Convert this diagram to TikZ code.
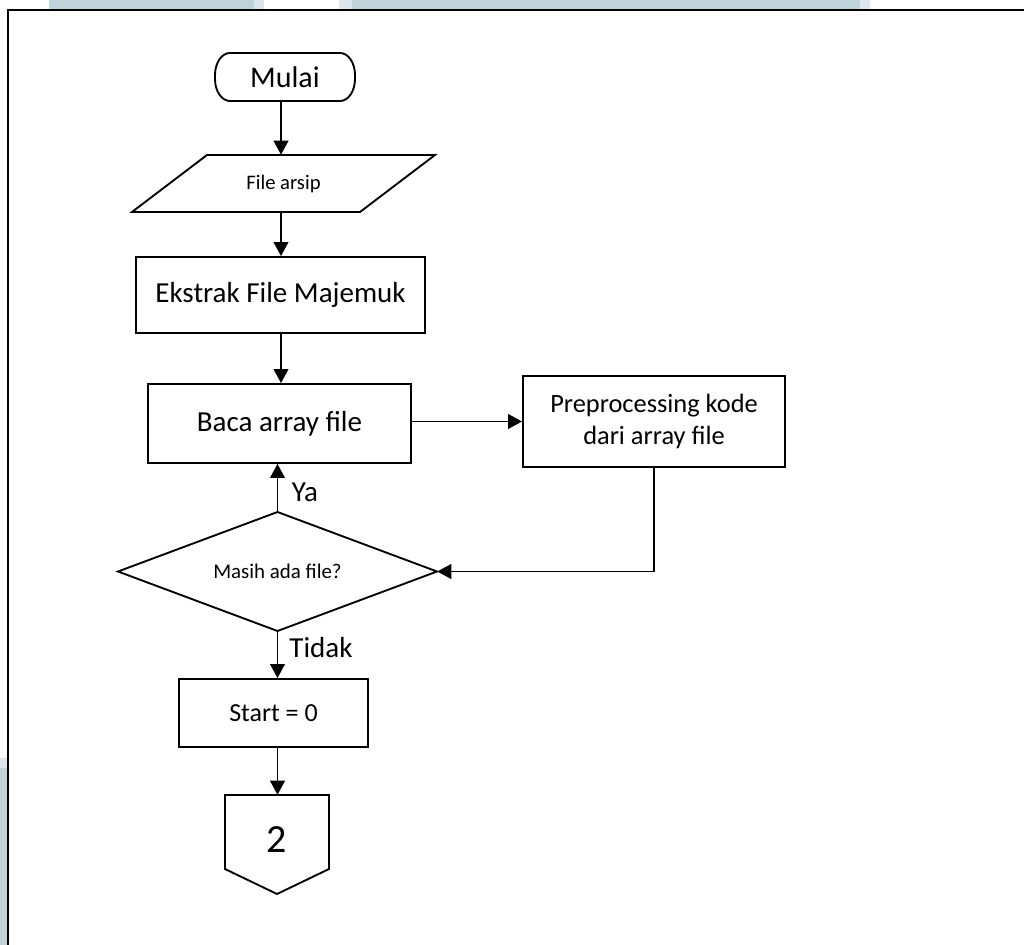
\documentclass[tikz,border=0pt]{standalone}
\usepackage{fontspec}
\setmainfont{Carlito}
\usetikzlibrary{arrows.meta}
\definecolor{pane}{RGB}{193,211,218}
\definecolor{panelight}{RGB}{221,231,235}
\begin{document}
\begin{tikzpicture}[x=0.75pt,y=-0.75pt,
  outline/.style={draw=black,line width=1.4pt,line join=miter},
  blk/.style={draw=none,inner sep=0pt,align=center},
  box/.style={draw=black,line width=1.4pt,inner sep=0pt,align=center},
  arr/.style={line width=1.4pt,-{Triangle[length=10.5pt,width=11pt]}},
  lbl/.style={inner sep=0pt,font=\fontsize{21.75pt}{26pt}\selectfont}]
\useasboundingbox (0,0) rectangle (1024,945);
\fill[white] (0,0) rectangle (1024,945);
% page background strips
\fill[pane] (49,0) rectangle (254,9);
\fill[panelight] (254,0) rectangle (264,9);
\fill[panelight] (339,0) rectangle (352,9);
\fill[pane] (352,0) rectangle (860,9);
\fill[panelight] (860,0) rectangle (870,9);
\fill[panelight] (0,758) rectangle (7,768);
\fill[pane] (0,768) rectangle (7,945);
% page frame
\draw[line width=1.6pt] (8,945) -- (8,10) -- (1024,10);

% column guides for the vertical connectors
\coordinate (colA) at (281,0);
\coordinate (colB) at (277.5,0);

% terminal: Mulai
\node[blk,minimum width=105pt,minimum height=36pt,font=\fontsize{22.5pt}{27pt}\selectfont] (mulai) at (285,77) {Mulai};
\draw[outline] (230,53) -- (340,53)
  .. controls (348.3,53) and (355,62.8) .. (355,75) -- (355,79)
  .. controls (355,91.2) and (348.3,101) .. (340,101) -- (230,101)
  .. controls (221.7,101) and (215,91.2) .. (215,79) -- (215,75)
  .. controls (215,62.8) and (221.7,53) .. (230,53) -- cycle;

% input: File arsip
\node[blk,minimum width=227.25pt,minimum height=42.75pt,font=\fontsize{15.5pt}{19pt}\selectfont] (file) at (283.5,183.5) {File arsip};
\draw[outline] (207,155) -- (435,155) -- (360,212) -- (132,212) -- cycle;

% process boxes
\node[box,minimum width=216.75pt,minimum height=57pt,font=\fontsize{21.75pt}{26pt}\selectfont] (ekstrak) at (280.5,295) {Ekstrak File Majemuk};
\node[box,minimum width=197.25pt,minimum height=59.25pt,font=\fontsize{21.75pt}{26pt}\selectfont] (baca) at (279.5,423.5) {Baca array file};
\node[box,minimum width=196.5pt,minimum height=68.25pt,font=\fontsize{19.8pt}{24pt}\selectfont] (prep) at (654,421.5) {Preprocessing kode\\dari array file};

% decision
\node[blk,minimum width=239.25pt,minimum height=89.25pt,font=\fontsize{15.7pt}{19pt}\selectfont] (dec) at (277.5,571.5) {Masih ada file?};
\draw[outline] (118,571.5) -- (277.5,512) -- (437,571.5) -- (277.5,631) -- cycle;

\node[box,minimum width=141.75pt,minimum height=51pt,font=\fontsize{19.5pt}{23pt}\selectfont] (start) at (273.5,713) {Start = 0};

% off-page connector
\node[blk,minimum width=78pt,minimum height=67.5pt,font=\fontsize{30pt}{36pt}\selectfont] (conn) at (277,840) {2};
\draw[outline] (225,795) -- (329,795) -- (329,869) -- (277,894) -- (225,869) -- cycle;

% connectors
\draw[arr] (mulai.south -| colA) -- (file.north -| colA);
\draw[arr] (file.south -| colA) -- (ekstrak.north -| colA);
\draw[arr] (ekstrak.south -| colA) -- (baca.north -| colA);
\draw[arr] (prep.west -| baca.east) -- (prep.west);
\draw[arr] (prep.south) |- (dec.east);
\draw[arr] (dec.north) -- (baca.south -| dec.north);
\draw[arr] (dec.south -| colB) -- (start.north -| colB);
\draw[arr] (start.south -| colB) -- (conn.north -| colB);

% branch labels
\node[lbl] (ya) at (305,492) {Ya};
\node[lbl] (tidak) at (321,648) {Tidak};
\end{tikzpicture}
\end{document}
